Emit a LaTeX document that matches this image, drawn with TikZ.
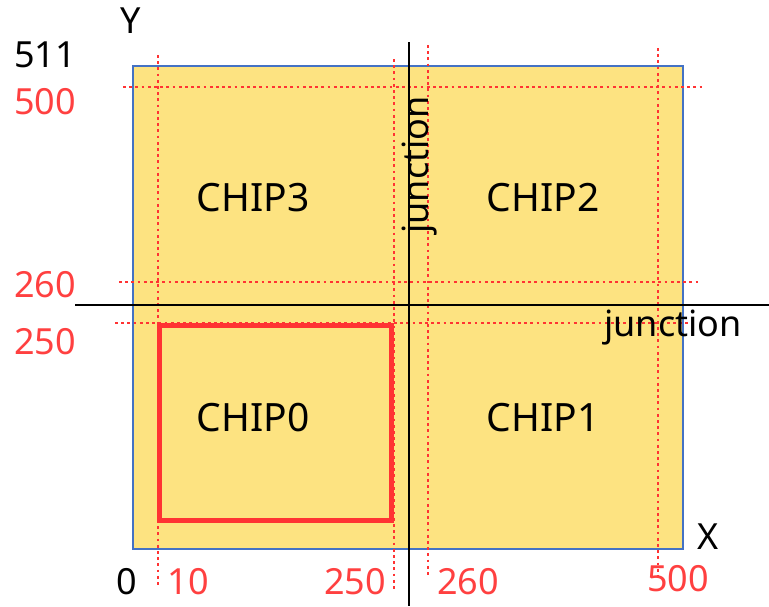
\documentclass[tikz,border=0pt]{standalone}
\usepackage{fontspec}
\setmainfont{Noto Sans}
\definecolor{chipyellow}{RGB}{253,227,129}
\definecolor{edgeblue}{RGB}{68,114,196}
\definecolor{redline}{RGB}{255,51,51}
\definecolor{redtext}{RGB}{255,64,64}
\begin{document}
\begin{tikzpicture}[x=1pt,y=-1pt,
  reddot/.style={redline,line width=2.8pt,dash pattern=on 2.8pt off 3.4pt},
  axis/.style={black,line width=1.3pt},
  lbl/.style={font=\fontsize{36}{38}\selectfont,inner sep=0pt},
  redlbl/.style={lbl,text=redtext},
  chiplbl/.style={font=\fontsize{39}{41}\selectfont,inner sep=0pt}]
\useasboundingbox (0,0) rectangle (769,606);
% die
\filldraw[fill=chipyellow,draw=edgeblue,line width=1.5pt] (133,66) rectangle (683,549);
% red dotted guides
\draw[reddot] (158,55) -- (158,585);
\draw[reddot] (394,59) -- (394,592);
\draw[reddot] (428,45) -- (428,575);
\draw[reddot] (658,48) -- (658,581);
\draw[reddot] (123,87) -- (705,87);
\draw[reddot] (119,282) -- (700,282);
\draw[reddot] (115,323) -- (690,323);
% axes
\draw[axis] (409,42) -- (409,606);
\draw[axis] (75,305) -- (769,305);
% chip0 outline
\draw[redline,line width=5pt] (159,325) rectangle (391,520);
% labels
\node[chiplbl] (c3) at (253,198) {CHIP3};
\node[chiplbl] (c2) at (543,198) {CHIP2};
\node[chiplbl] (c0) at (253,418) {CHIP0};
\node[chiplbl] (c1) at (543,418) {CHIP1};
\node[lbl,rotate=90] (jv) at (420,165) {junction};
\node[lbl] (jh) at (673,328) {junction};
\node[lbl] (ly) at (131,21) {Y};
\node[lbl] (lx) at (708,537) {X};
\node[lbl] (l511) at (45,55) {511};
\node[redlbl] (l500) at (45,102) {500};
\node[redlbl] (l260) at (45,285) {260};
\node[redlbl] (l250) at (45,342) {250};
\node[lbl] (l0) at (127,582) {0};
\node[redlbl] (x10) at (188,582) {10};
\node[redlbl] (x250) at (355,582) {250};
\node[redlbl] (x260) at (468,582) {260};
\node[redlbl] (x500) at (678,579) {500};
\end{tikzpicture}
\end{document}
